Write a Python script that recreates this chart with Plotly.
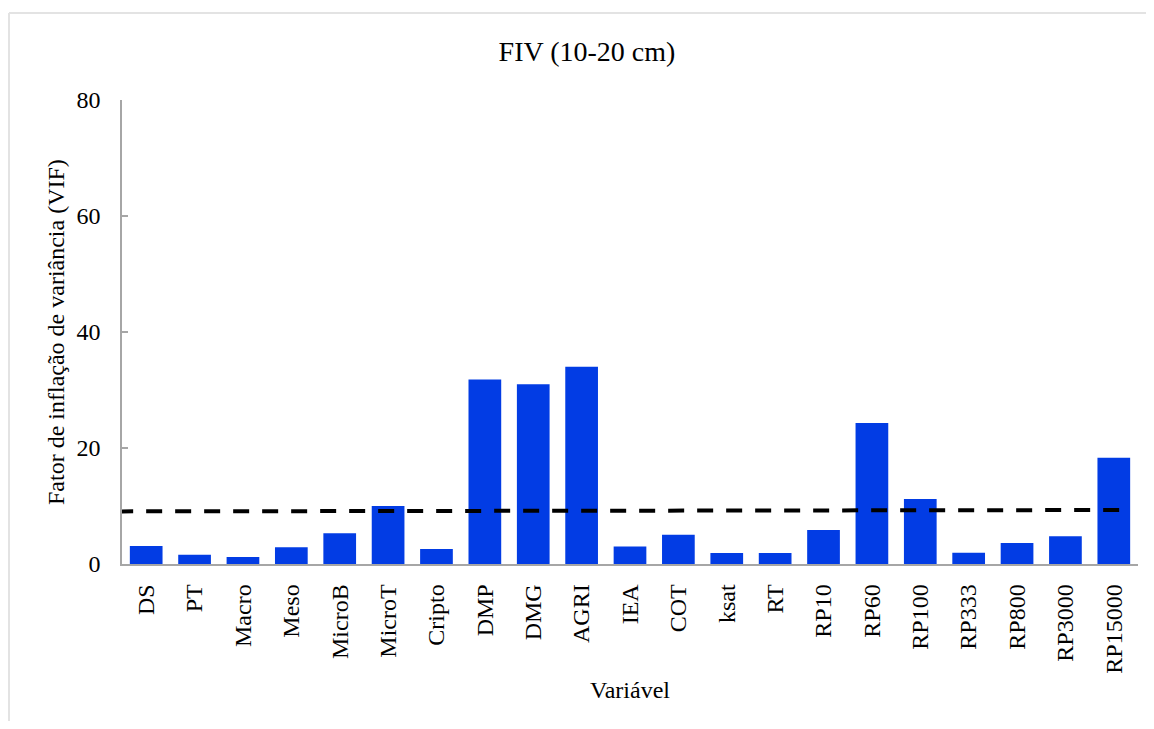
import plotly.graph_objects as go

categories = ["DS", "PT", "Macro", "Meso", "MicroB", "MicroT", "Cripto", "DMP", "DMG", "AGRI",
              "IEA", "COT", "ksat", "RT", "RP10", "RP60", "RP100", "RP333", "RP800", "RP3000", "RP15000"]
vif_values = [3.1, 1.6, 1.2, 2.9, 5.3, 10.0, 2.6, 31.8, 31.0, 34.0,
              3.0, 5.05, 1.9, 1.9, 5.86, 24.3, 11.2, 1.95, 3.6, 4.8, 18.3]
threshold_x = [-0.6, 20.23]
threshold_y = [9.07, 9.31]
y_ticks = [0, 20, 40, 60, 80]

FONT = "Liberation Serif"
W, H = 1138, 713  # page body has an 8px margin on each side

fig = go.Figure()
fig.add_trace(go.Bar(
    x=list(range(len(categories))), y=vif_values,
    marker=dict(color="#023CE4", line=dict(width=0)),
    showlegend=False,
))
fig.add_trace(go.Scatter(
    x=threshold_x, y=threshold_y, mode="lines",
    line=dict(color="black", width=4, dash="16px,13px"),
    showlegend=False,
))

bx0 = (9 - 122) / 1016
bx1 = (1200 - 122) / 1016
by0 = (564 - 760) / 464
by1 = (564 - 13) / 464

fig.update_layout(
    width=W, height=H,
    margin=dict(l=114, r=W - 1130, t=92, b=H - 556),
    paper_bgcolor="white", plot_bgcolor="white",
    bargap=0.324,
    font=dict(family=FONT, size=24, color="black"),
    title=dict(text="FIV (10-20 cm)", x=(587 - 8) / W, xref="container", xanchor="center",
               y=1 - (51 - 8) / H, yref="container", yanchor="middle",
               font=dict(family=FONT, size=28, color="black")),
    xaxis=dict(
        range=[-0.5, 20.5],
        tickmode="array", tickvals=list(range(len(categories))), ticktext=categories,
        tickangle=-90, ticks="", showgrid=False, zeroline=False,
        showline=True, linecolor="#a6a6a6", linewidth=1.5,
        tickfont=dict(family=FONT, size=24, color="black"),
        ticklabelstandoff=9,
    ),
    yaxis=dict(
        range=[0, 80], tickvals=y_ticks,
        ticks="inside", ticklen=6, tickcolor="#a6a6a6", tickwidth=1.5,
        showgrid=False, zeroline=False,
        showline=True, linecolor="#a6a6a6", linewidth=1.5,
        tickfont=dict(family=FONT, size=24, color="black"),
        ticklabelstandoff=15,
    ),
    annotations=[
        dict(text="Variável", xref="paper", yref="paper", x=0.5, y=(564 - 690) / 464,
             xanchor="center", yanchor="middle", showarrow=False,
             font=dict(family=FONT, size=24, color="black")),
        dict(text="Fator de inflação de variância (VIF)", xref="paper", yref="paper",
             x=(56 - 122) / 1016, y=0.5, textangle=-90,
             xanchor="center", yanchor="middle", showarrow=False,
             font=dict(family=FONT, size=24, color="black")),
    ],
    shapes=[
        dict(type="line", xref="paper", yref="paper", x0=bx0, x1=bx1, y0=by1, y1=by1,
             line=dict(color="#e3e3e3", width=2), layer="below"),
        dict(type="line", xref="paper", yref="paper", x0=bx0, x1=bx0, y0=by0, y1=by1,
             line=dict(color="#e3e3e3", width=2), layer="below"),
    ],
)

fig.write_html("out.html")
